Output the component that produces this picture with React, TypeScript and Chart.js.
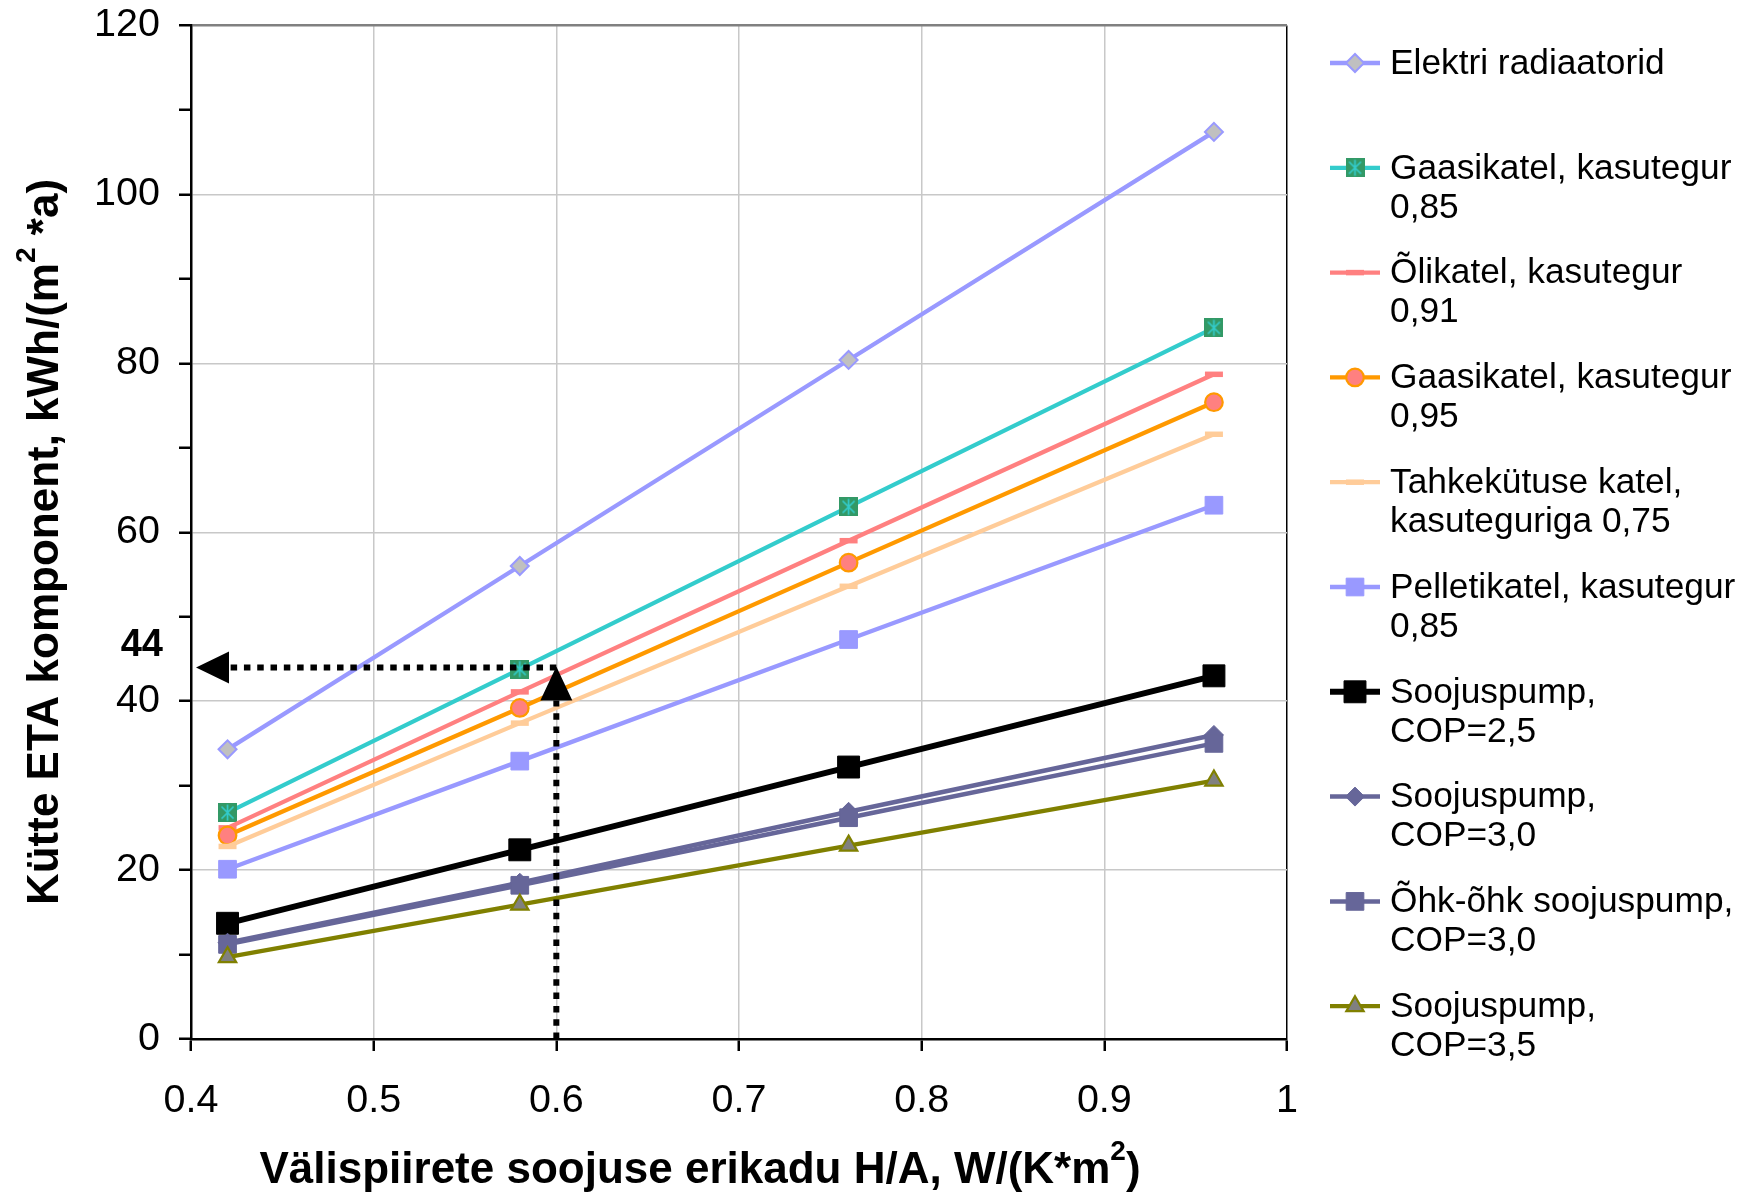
import React, { useEffect, useRef } from 'react';
import { Chart, registerables } from 'chart.js';
import { drawPoint } from 'chart.js/helpers';

Chart.register(...registerables);

// ---------- data ----------
const X_VALUES = [0.42, 0.58, 0.76, 0.96];
const ELEKTRI = [34.3, 56.0, 80.4, 107.4];
const GAAS_085 = [26.8, 43.8, 63.0, 84.2];
const OLI_091 = [25.0, 41.1, 59.0, 78.7];
const GAAS_095 = [24.1, 39.2, 56.4, 75.4];
const TAHKE_075 = [22.8, 37.4, 53.6, 71.6];
const PELLET_085 = [20.1, 32.9, 47.3, 63.2];
const COP_25 = [13.7, 22.4, 32.2, 43.0];
const COP_30 = [11.4, 18.5, 26.9, 36.0];
const OHK_COP_30 = [11.2, 18.2, 26.2, 35.0];
const COP_35 = [9.7, 15.9, 22.9, 30.6];

const X_TICK_VALUES = [0.4, 0.5, 0.6, 0.7, 0.8, 0.9, 1];
const X_TICK_LABELS = ['0.4', '0.5', '0.6', '0.7', '0.8', '0.9', '1'];
const Y_TICK_LABELS = ['0', '20', '40', '60', '80', '100', '120'];

const MARK_X = 0.6;
const MARK_Y = 44;
const MARK_LABEL = '44';

const LEGEND_LABELS = [
  ['Elektri radiaatorid'],
  ['Gaasikatel, kasutegur', '0,85'],
  ['Õlikatel, kasutegur', '0,91'],
  ['Gaasikatel, kasutegur', '0,95'],
  ['Tahkekütuse katel,', 'kasuteguriga 0,75'],
  ['Pelletikatel, kasutegur', '0,85'],
  ['Soojuspump,', 'COP=2,5'],
  ['Soojuspump,', 'COP=3,0'],
  ['Õhk-õhk soojuspump,', 'COP=3,0'],
  ['Soojuspump,', 'COP=3,5'],
];

const Y_TITLE = ['Kütte ETA komponent, kWh/(m', '2', ' *a)'];
const X_TITLE = ['Välispiirete soojuse erikadu H/A, W/(K*m', '2', ')'];

const FONT = "'Liberation Sans', Arial, Helvetica, sans-serif";

function makeStarSquare(): HTMLCanvasElement {
  const s = 19;
  const c = document.createElement('canvas');
  c.width = s;
  c.height = s;
  const g = c.getContext('2d')!;
  g.fillStyle = '#339966';
  g.fillRect(0, 0, s, s);
  g.strokeStyle = '#33CCCC';
  g.lineWidth = 1.7;
  g.beginPath();
  g.moveTo(3.5, 3.5); g.lineTo(s - 3.5, s - 3.5);
  g.moveTo(s - 3.5, 3.5); g.lineTo(3.5, s - 3.5);
  g.moveTo(s / 2, 1.5); g.lineTo(s / 2, s - 1.5);
  g.stroke();
  return c;
}

function drawRich(ctx: CanvasRenderingContext2D, parts: string[], cx: number, cy: number, size: number, supSize: number) {
  const main = `bold ${size}px ${FONT}`;
  const sup = `bold ${supSize}px ${FONT}`;
  ctx.font = main;
  const w0 = ctx.measureText(parts[0]).width;
  const w2 = ctx.measureText(parts[2]).width;
  ctx.font = sup;
  const w1 = ctx.measureText(parts[1]).width;
  const total = w0 + w1 + w2;
  let x = cx - total / 2;
  const base = cy + size * 0.358;
  ctx.textAlign = 'left';
  ctx.textBaseline = 'alphabetic';
  ctx.fillStyle = '#000';
  ctx.font = main;
  ctx.fillText(parts[0], x, base);
  x += w0;
  ctx.font = sup;
  ctx.fillText(parts[1], x, base - size * 0.52);
  x += w1;
  ctx.font = main;
  ctx.fillText(parts[2], x, base);
}

const LEG_LINE_X0 = 1330;
const LEG_LINE_X1 = 1380;
const LEG_TEXT_X = 1390;
const LEG_Y0 = 63;
const LEG_STEP = 104.8;
const LEG_LINE_H = 39;

const overlayPlugin = {
  id: 'overlay',
  afterDatasetsDraw(chart: any) {
    const ctx: CanvasRenderingContext2D = chart.ctx;
    const xs = chart.scales.x;
    const ys = chart.scales.y;
    const area = chart.chartArea;
    const px = xs.getPixelForValue(MARK_X);
    const py = ys.getPixelForValue(MARK_Y);
    ctx.save();
    ctx.strokeStyle = '#000';
    ctx.fillStyle = '#000';
    ctx.lineWidth = 6;
    ctx.lineCap = 'butt';
    ctx.setLineDash([6.5, 6.8]);
    const headLen = 33;
    const headHalf = 16;
    const tipX = area.left + 5;
    ctx.beginPath();
    ctx.moveTo(px, py);
    ctx.lineTo(tipX + headLen, py);
    ctx.stroke();
    ctx.beginPath();
    ctx.moveTo(px, area.bottom);
    ctx.lineTo(px, py + headLen);
    ctx.stroke();
    ctx.setLineDash([]);
    ctx.beginPath();
    ctx.moveTo(tipX, py);
    ctx.lineTo(tipX + headLen, py - headHalf);
    ctx.lineTo(tipX + headLen, py + headHalf);
    ctx.closePath();
    ctx.fill();
    ctx.beginPath();
    ctx.moveTo(px, py - 1);
    ctx.lineTo(px - headHalf, py + headLen);
    ctx.lineTo(px + headHalf, py + headLen);
    ctx.closePath();
    ctx.fill();
    ctx.restore();
  },
  afterDraw(chart: any) {
    const ctx: CanvasRenderingContext2D = chart.ctx;
    const ys = chart.scales.y;
    const py = ys.getPixelForValue(MARK_Y);
    ctx.save();
    // "44" label
    ctx.font = `bold 38px ${FONT}`;
    ctx.fillStyle = '#000';
    ctx.textAlign = 'right';
    ctx.textBaseline = 'middle';
    ctx.fillText(MARK_LABEL, 163, py - 22);

    // axis titles
    ctx.save();
    ctx.translate(42, 542);
    ctx.rotate(-Math.PI / 2);
    drawRich(ctx, Y_TITLE, 0, 0, 44, 28);
    ctx.restore();
    drawRich(ctx, X_TITLE, 700, 1167, 44, 28);

    // legend
    chart.data.datasets.forEach((ds: any, i: number) => {
      const y = LEG_Y0 + i * LEG_STEP;
      ctx.save();
      ctx.strokeStyle = ds.borderColor;
      ctx.lineWidth = ds.borderWidth;
      ctx.beginPath();
      ctx.moveTo(LEG_LINE_X0, y);
      ctx.lineTo(LEG_LINE_X1, y);
      ctx.stroke();
      ctx.fillStyle = ds.pointBackgroundColor;
      ctx.strokeStyle = ds.pointBorderColor;
      ctx.lineWidth = ds.pointBorderWidth;
      drawPoint(ctx, {
        pointStyle: ds.pointStyle,
        radius: ds.pointRadius,
        rotation: 0,
        borderWidth: ds.pointBorderWidth,
      } as any, (LEG_LINE_X0 + LEG_LINE_X1) / 2, y);
      ctx.restore();
      ctx.font = `35.3px ${FONT}`;
      ctx.fillStyle = '#000';
      ctx.textAlign = 'left';
      ctx.textBaseline = 'middle';
      LEGEND_LABELS[i].forEach((line, j) => {
        ctx.fillText(line, LEG_TEXT_X, y + j * LEG_LINE_H + 1);
      });
    });
    ctx.restore();
  },
};

export default function App() {
  const ref = useRef<HTMLCanvasElement | null>(null);

  useEffect(() => {
    document.body.style.margin = '0';
    const canvas = ref.current!;
    const star = makeStarSquare();
    const pts = (ys: number[]) => X_VALUES.map((x, i) => ({ x, y: ys[i] }));

    const series = [
      { data: ELEKTRI, color: '#9999FF', width: 4.3, style: 'rectRot', r: 9, bg: '#C0C0C0', bc: '#9999FF', bw: 2 },
      { data: GAAS_085, color: '#33CCCC', width: 4.3, style: star, r: 10, bg: '#339966', bc: '#33CCCC', bw: 0 },
      { data: OLI_091, color: '#FF8080', width: 4.3, style: 'line', r: 9, bg: '#FF8080', bc: '#FF8080', bw: 5.5 },
      { data: GAAS_095, color: '#FF9900', width: 4.3, style: 'circle', r: 8.8, bg: '#FF8080', bc: '#FF9900', bw: 2.2 },
      { data: TAHKE_075, color: '#FFCC99', width: 4.3, style: 'line', r: 9, bg: '#FFCC99', bc: '#FFCC99', bw: 5.5 },
      { data: PELLET_085, color: '#9999FF', width: 4.3, style: 'rect', r: 12.5, bg: '#9999FF', bc: '#9999FF', bw: 1 },
      { data: COP_25, color: '#000000', width: 6, style: 'rect', r: 15.5, bg: '#000000', bc: '#000000', bw: 1 },
      { data: COP_30, color: '#666699', width: 4.5, style: 'rectRot', r: 9.5, bg: '#666699', bc: '#666699', bw: 1 },
      { data: OHK_COP_30, color: '#666699', width: 4.5, style: 'rect', r: 12.5, bg: '#666699', bc: '#666699', bw: 1 },
      { data: COP_35, color: '#808000', width: 4.3, style: 'triangle', r: 10, bg: '#808080', bc: '#808000', bw: 2.2 },
    ];
    const n = series.length;

    const chart = new Chart(canvas, {
      type: 'line',
      data: {
        datasets: series.map((s, i) => ({
          label: LEGEND_LABELS[i].join(' '),
          data: pts(s.data),
          borderColor: s.color,
          backgroundColor: s.bg,
          borderWidth: s.width,
          pointStyle: s.style as any,
          pointRadius: s.r,
          pointHoverRadius: s.r,
          pointBackgroundColor: s.bg,
          pointBorderColor: s.bc,
          pointBorderWidth: s.bw,
          tension: 0,
          fill: false,
          order: n - i,
          clip: false as any,
        })),
      },
      options: {
        animation: false,
        responsive: false,
        devicePixelRatio: 1,
        events: [],
        layout: { padding: { left: 0, top: 25.5, right: 465, bottom: 0 } },
        plugins: { legend: { display: false }, tooltip: { enabled: false }, title: { display: false } },
        font: { family: FONT },
        scales: {
          x: {
            type: 'linear',
            min: 0.4,
            max: 1,
            afterBuildTicks: (scale: any) => {
              scale.ticks = X_TICK_VALUES.map((v) => ({ value: v }));
            },
            afterFit: (scale: any) => {
              scale.height = 153;
              scale.paddingLeft = 0;
              scale.paddingRight = 0;
            },
            ticks: {
              autoSkip: false,
              maxRotation: 0,
              padding: 26,
              color: '#000',
              font: { family: FONT, size: 39.5 },
              callback: (_v: any, i: number) => X_TICK_LABELS[i],
            },
            grid: {
              color: (c: any) => {
                const v = c.tick ? c.tick.value : 0;
                if (Math.abs(v - 0.4) < 1e-6) return 'rgba(0,0,0,0)';
                if (Math.abs(v - 1) < 1e-6) return '#000000';
                return '#C8C8C8';
              },
              lineWidth: 1.5,
              tickColor: '#000',
              tickLength: 12,
              tickWidth: 2.5,
            },
            border: { color: '#000', width: 2.5 },
          },
          y: {
            type: 'linear',
            min: 0,
            max: 120,
            afterBuildTicks: (scale: any) => {
              const t = [];
              for (let v = 0; v <= 120; v += 10) t.push({ value: v });
              scale.ticks = t;
            },
            afterFit: (scale: any) => {
              scale.width = 191;
              scale.paddingTop = 0;
              scale.paddingBottom = 0;
            },
            ticks: {
              autoSkip: false,
              padding: 19,
              color: '#000',
              font: { family: FONT, size: 39.5 },
              callback: (v: any) => (v % 20 === 0 ? Y_TICK_LABELS[v / 20] : ''),
            },
            grid: {
              color: (c: any) => {
                const v = c.tick ? c.tick.value : 0;
                if (v === 0 || v % 20 !== 0) return 'rgba(0,0,0,0)';
                if (v === 120) return '#808080';
                return '#C8C8C8';
              },
              lineWidth: (c: any) => (c.tick && c.tick.value === 120 ? 2.5 : 1.5),
              tickColor: '#000',
              tickLength: 12,
              tickWidth: 2.5,
            },
            border: { color: '#000', width: 2.5 },
          },
        },
      } as any,
      plugins: [overlayPlugin],
    });
    return () => chart.destroy();
  }, []);

  return (
    <div style={{ position: 'fixed', left: 0, top: 0, width: 1752, height: 1192, background: '#fff' }}>
      <canvas ref={ref} width={1752} height={1192} style={{ display: 'block' }} />
    </div>
  );
}
